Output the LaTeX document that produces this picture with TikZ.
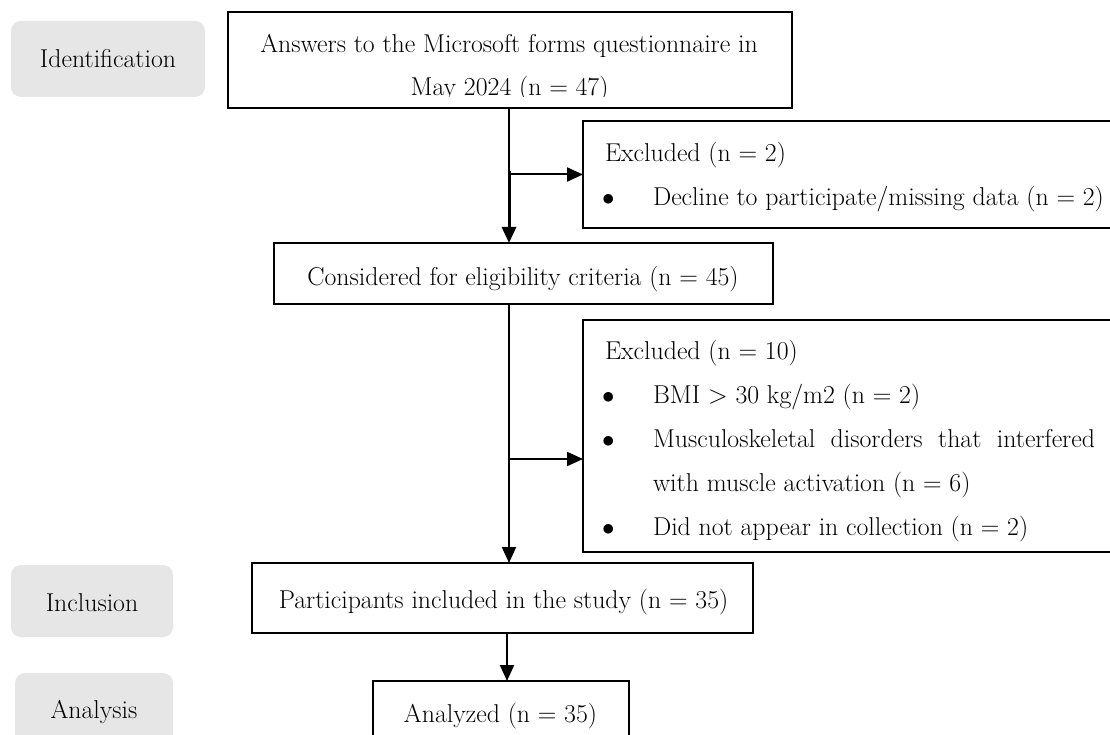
\documentclass[tikz,border=0pt]{standalone}
\usetikzlibrary{arrows.meta}
\definecolor{stagegray}{HTML}{E6E6E6}
\tikzset{
  stage/.style={fill=stagegray, rounded corners=10pt, draw=none, inner sep=0pt, outer sep=0pt},
  flowbox/.style={draw=black, line width=2pt, fill=white, inner sep=0pt, outer sep=0pt},
  txt/.style={anchor=base, inner sep=0pt, outer sep=0pt, font=\fontsize{25.8}{30}\selectfont},
  txtl/.style={txt, anchor=base west},
  conn/.style={line width=2pt, draw=black},
  arr/.style={conn, -{Triangle[length=16pt,width=14pt]}},
}
\begin{document}
\begin{tikzpicture}[x=1pt,y=-1pt]
\clip (0,0) rectangle (1110,735);
\fill[white] (0,0) rectangle (1110,735);

% stage labels
\node[stage, minimum width=194pt, minimum height=76pt] (sid) at (108,59) {};
\node[txt] (tid) at (108,68) {Identification};
\node[stage, minimum width=162pt, minimum height=72pt] (sinc) at (92,601) {};
\node[txt] (tinc) at (92,611) {Inclusion};
\node[stage, minimum width=158pt, minimum height=87pt] (sana) at (94,716.5) {};
\node[txt] (tana) at (94,718) {Analysis};

% flow boxes
\node[flowbox, minimum width=564pt, minimum height=96pt] (b1) at (510,60) {};
\node[txt] (t1a) at (509,53) {Answers to the Microsoft forms questionnaire in};
\begin{scope}
  \clip (228,12) rectangle (792,97);
  \node[txt] (t1b) at (509.5,96) {May 2024 (n = 47)};
\end{scope}

\node[flowbox, minimum width=542pt, minimum height=107pt] (e1) at (854,174.5) {};
\node[txtl] (e1t) at (605,162) {Excluded (n = 2)};
\node[txtl] (e1b) at (602,206) {$\bullet$};
\node[txtl] (e1a) at (653,206) {Decline to participate/missing data (n = 2)};

\node[flowbox, minimum width=499pt, minimum height=61pt] (b2) at (523.5,273.5) {};
\node[txt] (t2) at (523,285) {Considered for eligibility criteria (n = 45)};

\node[flowbox, minimum width=542pt, minimum height=232pt] (e2) at (854,436) {};
\node[txtl] (e2t) at (605,359) {Excluded (n = 10)};
\node[txtl] (e2b1) at (602,403) {$\bullet$};
\node[txtl] (e2a1) at (653,403) {BMI > 30 kg/m2 (n = 2)};
\node[txtl] (e2b2) at (602,447) {$\bullet$};
\node[txtl] (e2a2) at (653,447) {\makebox[442pt][s]{Musculoskeletal disorders that interfered}};
\node[txtl] (e2a3) at (653,491) {with muscle activation (n = 6)};
\node[txtl] (e2b3) at (602,535) {$\bullet$};
\node[txtl] (e2a4) at (653,535) {Did not appear in collection (n = 2)};

\node[flowbox, minimum width=501pt, minimum height=70pt] (b3) at (502.5,598) {};
\node[txt] (t3) at (503.5,608) {Participants included in the study (n = 35)};

\node[flowbox, minimum width=256pt, minimum height=79pt] (b4) at (501,720.5) {};
\node[txt] (t4) at (500.5,722) {Analyzed (n = 35)};

% connectors
\coordinate (j1) at (b1.south |- e1.west);
\draw[conn] ([xshift=-1pt]b1.south) -- ([xshift=-1pt]j1);
\draw[arr] ([xshift=-1pt]j1) -- (e1.west);
\draw[arr, line width=3pt] ([xshift=-1pt,yshift=3pt]j1) -- ([xshift=-1pt]b1.south |- b2.north);

\coordinate (j2) at (509,459);
\draw[arr] (j2 |- b2.south) -- (j2 |- b3.north);
\draw[arr] (j2) -- (j2 -| e2.west);

\coordinate (j3) at (507,633);
\draw[arr] (j3 |- b3.south) -- (j3 |- b4.north);
\end{tikzpicture}
\end{document}
